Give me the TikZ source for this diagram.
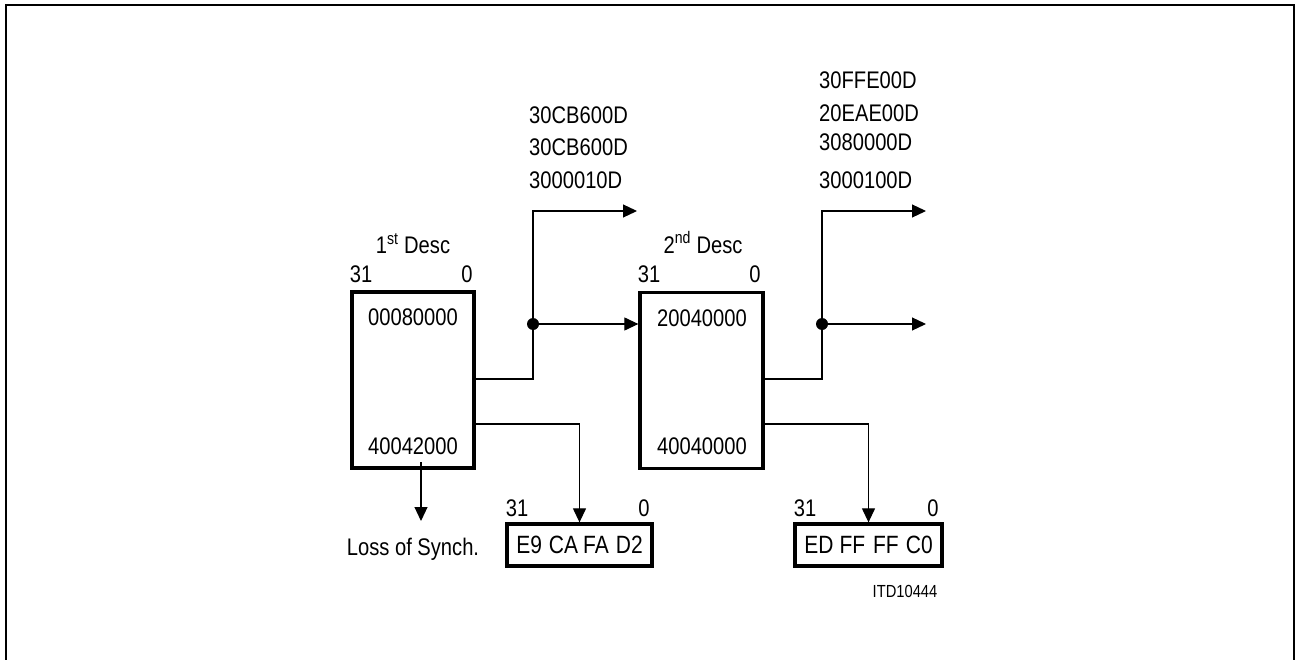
\documentclass[tikz,border=0pt]{standalone}
\usepackage{fontspec}
\setmainfont{Liberation Sans}[FakeStretch=0.84]
\usetikzlibrary{arrows.meta}
\begin{document}
\begin{tikzpicture}[x=1pt,y=-1pt,
  lbl/.style={font=\fontsize{24}{27}\selectfont, inner sep=0pt, anchor=base},
  lblw/.style={lbl, anchor=base west},
  small/.style={font=\fontsize{17.5}{20}\selectfont, inner sep=0pt, anchor=base},
  desc/.style={draw, line width=3.3pt, minimum width=122pt, minimum height=176pt, inner sep=0pt},
  regbox/.style={draw, line width=3.3pt, minimum width=145pt, minimum height=42pt, inner sep=0pt, font=\fontsize{25}{28}\selectfont},
  conn/.style={line width=1.2pt},
  arr/.style={conn, -{Triangle[length=14pt,width=13pt]}},
  dot/.style={circle, fill=black, inner sep=0pt, minimum size=12pt}
]
\useasboundingbox (0,0) rectangle (1297,660);
% outer frame
\draw[line width=2.5pt] (6,664) -- (6,5) -- (1294,5) -- (1294,664);

% descriptor boxes
\node[desc] (d1) at (413,380) {};
\node[desc, minimum width=123pt] (d2) at (701.5,380.5) {};

\node[lbl] (d1h) at (413,254) {1\textsuperscript{st} Desc};
\node[lbl] (d1a) at (361,282) {31};
\node[lbl] (d1b) at (467,282) {0};
\node[lbl] (d1t) at (413,325) {00080000};
\node[lbl] (d1u) at (413,454) {40042000};

\node[lbl] (d2h) at (703,253) {2\textsuperscript{nd} Desc};
\node[lbl] (d2a) at (649,282) {31};
\node[lbl] (d2b) at (755,282) {0};
\node[lbl] (d2t) at (702,326) {20040000};
\node[lbl] (d2u) at (702,454) {40040000};

% register boxes
\node[regbox] (r1) at (579.5,545) {E9\hspace{7pt}CA\hspace{5pt}FA\hspace{7pt}D2};
\node[regbox, minimum width=147pt] (r2) at (868.5,545) {ED\hspace{6pt}FF\hspace{8pt}FF\hspace{7pt}C0};
\node[lbl] (r1a) at (517,516) {31};
\node[lbl] (r1b) at (644,516) {0};
\node[lbl] (r2a) at (805,516) {31};
\node[lbl] (r2b) at (933,516) {0};

\node[lbl] (loss) at (413,555) {Loss of Synch.};
\node[small] (itd) at (905,597) {ITD10444};

% output value labels
\node[lblw] (v1) at (529,124) {30CB600D};
\node[lblw] (v2) at (529,156) {30CB600D};
\node[lblw] (v3) at (529,189) {3000010D};
\node[lblw] (w1) at (819,89) {30FFE00D};
\node[lblw] (w2) at (819,122) {20EAE00D};
\node[lblw] (w3) at (819,151) {3080000D};
\node[lblw] (w4) at (819,189) {3000100D};

% connector coordinates
\coordinate (j1) at (533,324);
\coordinate (t1) at (637,211);
\coordinate (j2) at (822,324);
\coordinate (t2) at (926,211);
\coordinate (e2) at (926,324);
\coordinate (ls) at (421,462);
\coordinate (le) at (421,521);

% first descriptor connectors
\draw[arr] (d1.east |- 0,379) -| (j1) |- (t1);
\node[dot] (dot1) at (j1) {};
\draw[arr] (j1) -- (d2.west |- j1);
\draw[arr] (d1.east |- 0,424) -| (r1.north);
\draw[arr] (ls) -- (le);

% second descriptor connectors
\draw[arr] (d2.east |- 0,379) -| (j2) |- (t2);
\node[dot] (dot2) at (j2) {};
\draw[arr] (j2) -- (e2);
\draw[arr] (d2.east |- 0,424) -| (r2.north);
\end{tikzpicture}
\end{document}
